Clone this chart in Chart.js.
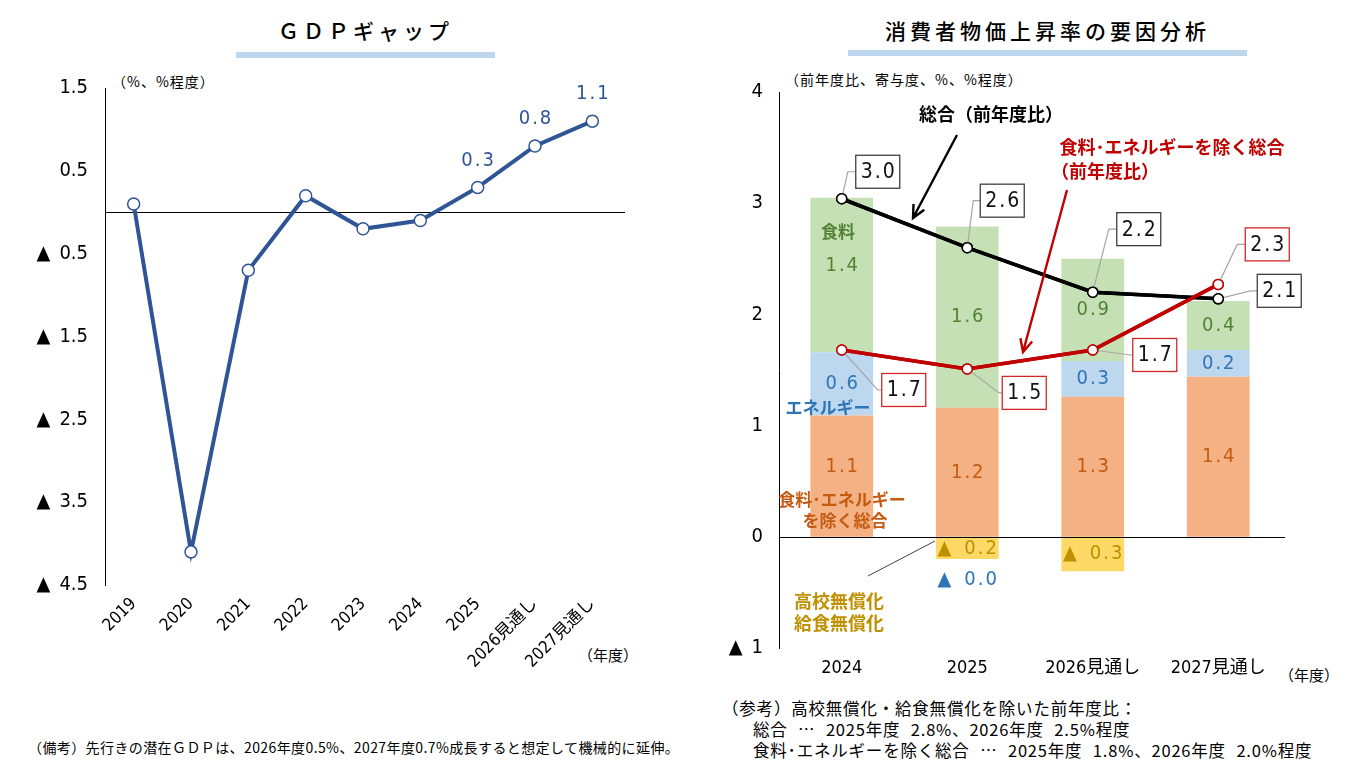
<!DOCTYPE html>
<html>
<head>
<meta charset="utf-8">
<script src="https://cdn.jsdelivr.net/npm/chart.js@4.4.1/dist/chart.umd.min.js"></script>
<style>
  body { margin: 0; width: 1350px; height: 781px; background: #fff; position: relative; overflow: hidden;
         font-family: "Noto Sans CJK JP", sans-serif; color: #000; }
  .abs { position: absolute; white-space: nowrap; }
  .title { font-size: 21px; letter-spacing: 4px; text-align: center; font-weight: 500; }
  .bar { position: absolute; height: 6px; background: #BDD7EE; }
  .unit { font-size: 14px; letter-spacing: 1px; }
  .note { font-size: 14px; letter-spacing: 0.4px; }
  .ref { font-size: 16.5px; line-height: 21px; word-spacing: 6px; letter-spacing: 0.8px; }
  canvas { position: absolute; top: 0; }
</style>
</head>
<body>

<div class="abs title" style="left:236px;top:15px;width:259px;">ＧＤＰギャップ</div>
<div class="bar" style="left:236px;top:52px;width:259px;"></div>
<div class="abs unit" style="left:112px;top:71px;">（%、%程度）</div>
<div class="abs unit" style="left:578px;top:644px;font-size:15px;letter-spacing:0;">（年度）</div>
<div class="abs note" style="left:28px;top:737px;">（備考）先行きの潜在ＧＤＰは、2026年度0.5%、2027年度0.7%成長すると想定して機械的に延伸。</div>

<div class="abs title" style="left:848px;top:15px;width:399px;">消費者物価上昇率の要因分析</div>
<div class="bar" style="left:848px;top:50px;width:399px;"></div>
<div class="abs unit" style="left:785px;top:69px;">（前年度比、寄与度、%、%程度）</div>
<div class="abs unit" style="left:1279px;top:664px;font-size:15px;letter-spacing:0;">（年度）</div>
<div class="abs ref" style="left:722px;top:698px;">（参考）高校無償化・給食無償化を除いた前年度比：</div>
<div class="abs ref" style="left:753px;top:719px;">総合 … 2025年度 2.8%、2026年度 2.5%程度</div>
<div class="abs ref" style="left:753px;top:740px;">食料･エネルギーを除く総合 … 2025年度 1.8%、2026年度 2.0%程度</div>

<canvas id="gdp" width="680" height="700" style="left:0px;"></canvas>
<canvas id="cpi" width="650" height="781" style="left:700px;"></canvas>

<script>
// ---- GDPギャップ ----
const gdpYears = ['2019', '2020', '2021', '2022', '2023', '2024', '2025', '2026見通し', '2027見通し'];
const gdpGap = [0.1, -4.1, -0.7, 0.2, -0.2, -0.1, 0.3, 0.8, 1.1];
const gdpTicks = [1.5, 0.5, -0.5, -1.5, -2.5, -3.5, -4.5];
const gdpShown = [6, 7, 8];   // points with a value label

// ---- 消費者物価 ----
const cpiYears = ['2024', '2025', '2026見通し', '2027見通し'];
const coreContrib = [1.09, 1.16, 1.26, 1.44];    // 食料・エネルギーを除く総合
const energyContrib = [0.57, -0.01, 0.32, 0.24]; // エネルギー
const foodContrib = [1.39, 1.63, 0.92, 0.44];    // 食料
const freeContrib = [null, -0.19, -0.31, null];  // 高校無償化・給食無償化
const totalYoY = [3.04, 2.60, 2.20, 2.14];       // 総合（前年度比）
const coreYoY = [1.68, 1.51, 1.68, 2.27];        // 食料・エネルギーを除く総合（前年度比）

const NUM_FONT = "'Liberation Sans Narrow', 'DejaVu Sans Condensed', 'Noto Sans CJK JP', sans-serif";
const JP_FONT = "'Noto Sans CJK JP', sans-serif";
const GDP_BLUE = '#2F5597';
const RED = '#C00000';

Chart.defaults.font.family = NUM_FONT;
Chart.defaults.color = '#000';

function fmt(v, digits) {
  const s = Math.abs(v).toFixed(digits);
  return v < 0 ? '▲\u2002' + s : s;
}

// 0の横線
function zeroLine(when) {
  const p = { id: 'zeroLine' + when };
  p[when] = chart => {
    const { ctx, chartArea, scales } = chart;
    const y = Math.round(scales.y.getPixelForValue(0)) + 0.5;
    ctx.save();
    ctx.strokeStyle = '#000';
    ctx.lineWidth = 1;
    ctx.beginPath();
    ctx.moveTo(chartArea.left, y);
    ctx.lineTo(chartArea.right + 4, y);
    ctx.stroke();
    ctx.restore();
  };
  return p;
}

// =========================
// 左: GDPギャップ
// =========================
const gdpLabels = {
  id: 'gdpLabels',
  afterDatasetsDraw(chart) {
    const { ctx } = chart;
    const meta = chart.getDatasetMeta(0);
    ctx.save();
    ctx.fillStyle = GDP_BLUE;
    ctx.font = '20px ' + NUM_FONT;
    ctx.letterSpacing = '2px';
    ctx.textAlign = 'center';
    ctx.textBaseline = 'middle';
    gdpShown.forEach(i => {
      const pt = meta.data[i];
      ctx.fillText(gdpGap[i].toFixed(1), pt.x + 1, pt.y - 27);
    });
    ctx.restore();
  }
};

new Chart(document.getElementById('gdp'), {
  type: 'line',
  data: {
    labels: gdpYears,
    datasets: [{
      data: gdpGap,
      borderColor: GDP_BLUE,
      borderWidth: 4,
      tension: 0,
      pointRadius: 6,
      pointBackgroundColor: '#fff',
      pointBorderColor: GDP_BLUE,
      pointBorderWidth: 1.5
    }]
  },
  options: {
    responsive: false,
    animation: false,
    layout: { padding: { top: 88, right: 59, left: 0, bottom: 0 } },
    plugins: { legend: { display: false }, tooltip: { enabled: false } },
    scales: {
      x: {
        offset: true,
        grid: { display: false, drawTicks: false },
        border: { display: false },
        ticks: { autoSkip: false, minRotation: 45, maxRotation: 45, padding: 9, color: '#000',
                 font: { family: NUM_FONT, size: 17 } },
        afterFit(s) { s.height = 115; }
      },
      y: {
        min: -4.5, max: 1.5,
        grid: { display: false, drawTicks: false },
        border: { display: true, color: '#000', width: 1 },
        afterBuildTicks(s) { s.ticks = gdpTicks.map(v => ({ value: v })); },
        ticks: { padding: 17, color: '#000', font: { family: NUM_FONT, size: 20 },
                 callback: v => fmt(v, 1) },
        afterFit(s) { s.width = 105; }
      }
    }
  },
  plugins: [zeroLine('beforeDatasetsDraw'), gdpLabels]
});

// =========================
// 右: 消費者物価上昇率の要因分析
// =========================
const CPI_LEFT = 700; // canvas offset on the page

// ラベル枠の位置（点からのずれ）
const totalBoxPos = [[36, -27, 6, -27], [35, -47, 6, -47], [46, -63, 16, -63], [61, -8, 32, -8]];
const coreBoxPos = [[62, 40, 36, 40], [57, 24, 32, 24], [62, 5, 38, 5], [49, -40, 19, -40]];
const labelShift = { 0: [-9, 0, 0, 0], 2: [-9, 0, 0, 0] }; // dataset index -> dy per bar

const barLabels = {
  id: 'barLabels',
  afterDatasetsDraw(chart) {
    const { ctx } = chart;
    ctx.save();
    ctx.font = '20px ' + NUM_FONT;
    ctx.letterSpacing = '2px';
    ctx.textAlign = 'center';
    ctx.textBaseline = 'middle';
    chart.data.datasets.forEach((ds, di) => {
      if (ds.type === 'line') return;
      const meta = chart.getDatasetMeta(di);
      ds.data.forEach((v, j) => {
        if (v === null) return;
        const el = meta.data[j];
        let y = (el.y + el.base) / 2 + ((labelShift[di] || [])[j] || 0);
        if (Math.abs(v) < 0.05) {
          // ほぼ0：積み上げの下に置く
          const below = chart.getDatasetMeta(3).data[j];
          y = below.y + 21;
        }
        ctx.fillStyle = ds.labelColor;
        ctx.fillText(fmt(v, 1), el.x + 1, y);
      });
    });
    ctx.restore();
  }
};

function drawBox(ctx, px, py, pos, text, edge) {
  const [bx, by, ex, ey] = pos;
  const w = 44, h = 33;
  ctx.strokeStyle = '#A6A6A6';
  ctx.lineWidth = 1.2;
  ctx.beginPath();
  ctx.moveTo(px, py);
  ctx.lineTo(px + ex, py + ey);
  ctx.lineTo(px + bx - w / 2, py + by);
  ctx.stroke();
  ctx.fillStyle = '#fff';
  ctx.fillRect(px + bx - w / 2, py + by - h / 2, w, h);
  ctx.strokeStyle = edge;
  ctx.lineWidth = 1.3;
  ctx.strokeRect(px + bx - w / 2, py + by - h / 2, w, h);
  ctx.fillStyle = '#111';
  ctx.fillText(text, px + bx + 1, py + by + 1);
}

const boxLabels = {
  id: 'boxLabels',
  afterDatasetsDraw(chart) {
    const { ctx } = chart;
    ctx.save();
    ctx.font = '21px ' + NUM_FONT;
    ctx.letterSpacing = '2px';
    ctx.textAlign = 'center';
    ctx.textBaseline = 'middle';
    const tot = chart.getDatasetMeta(4), core = chart.getDatasetMeta(5);
    totalYoY.forEach((v, j) => drawBox(ctx, tot.data[j].x, tot.data[j].y, totalBoxPos[j], v.toFixed(1), '#404040'));
    coreYoY.forEach((v, j) => drawBox(ctx, core.data[j].x, core.data[j].y, coreBoxPos[j], v.toFixed(1), '#D02828'));
    ctx.restore();
    // 点を枠線の上に描き直す
    tot.controller.draw();
    core.controller.draw();
  }
};

function arrow(ctx, x1, y1, x2, y2, color) {
  const a = Math.atan2(y2 - y1, x2 - x1), L = 14, s = 0.45;
  ctx.strokeStyle = color;
  ctx.lineWidth = 2.4;
  ctx.beginPath();
  ctx.moveTo(x1, y1);
  ctx.lineTo(x2, y2);
  ctx.moveTo(x2 - L * Math.cos(a - s), y2 - L * Math.sin(a - s));
  ctx.lineTo(x2, y2);
  ctx.lineTo(x2 - L * Math.cos(a + s), y2 - L * Math.sin(a + s));
  ctx.stroke();
}

const notes = {
  id: 'notes',
  afterDraw(chart) {
    const ctx = chart.ctx, o = CPI_LEFT;
    ctx.save();
    ctx.textAlign = 'center';
    ctx.textBaseline = 'middle';
    ctx.font = 'bold 17px ' + JP_FONT;
    const t = (s, x, y, c) => { ctx.fillStyle = c; ctx.fillText(s, x - o, y); };
    t('食料', 838, 232, '#548235');
    t('エネルギー', 828, 408, '#2E75B6');
    t('食料･エネルギー', 842, 500, '#C55A11');
    t('を除く総合', 845, 521, '#C55A11');
    ctx.font = 'bold 18px ' + JP_FONT;
    t('高校無償化', 839, 601, '#BF9000');
    t('給食無償化', 839, 623, '#BF9000');
    t('総合（前年度比）', 991, 114, '#000');
    t('食料･エネルギーを除く総合', 1172, 147, RED);
    t('（前年度比）', 1105, 171, RED);
    arrow(ctx, 957 - o, 135, 913 - o, 218, '#000');
    arrow(ctx, 1067 - o, 190, 1023 - o, 352, RED);
    ctx.strokeStyle = '#404040';
    ctx.lineWidth = 1;
    ctx.beginPath();
    ctx.moveTo(868 - o, 576);
    ctx.lineTo(935 - o, 541);
    ctx.stroke();
    ctx.restore();
  }
};

const barBase = { type: 'bar', stack: 'cpi', categoryPercentage: 1, barPercentage: 0.5, order: 2, borderWidth: 0 };
const lineBase = { type: 'line', borderWidth: 3.5, tension: 0, pointRadius: 5, pointBorderWidth: 1.5,
                   pointBackgroundColor: '#fff', order: 1 };

new Chart(document.getElementById('cpi'), {
  type: 'bar',
  data: {
    labels: cpiYears,
    datasets: [
      { ...barBase, label: '食料･エネルギーを除く総合', data: coreContrib, backgroundColor: '#F4B183', labelColor: '#C55A11' },
      { ...barBase, label: 'エネルギー', data: energyContrib, backgroundColor: '#BDD7EE', labelColor: '#2E75B6' },
      { ...barBase, label: '食料', data: foodContrib, backgroundColor: '#C5E0B4', labelColor: '#548235' },
      { ...barBase, label: '高校無償化・給食無償化', data: freeContrib, backgroundColor: '#FFD966', labelColor: '#BF9000' },
      { ...lineBase, label: '総合（前年度比）', stack: 'tot', data: totalYoY, borderColor: '#000', pointBorderColor: '#000' },
      { ...lineBase, label: '食料･エネルギーを除く総合（前年度比）', stack: 'core', data: coreYoY, borderColor: RED, pointBorderColor: RED }
    ]
  },
  options: {
    responsive: false,
    animation: false,
    layout: { padding: { top: 92, right: 69, left: 0, bottom: 93 } },
    plugins: { legend: { display: false }, tooltip: { enabled: false } },
    scales: {
      x: {
        stacked: true,
        grid: { display: false, drawTicks: false },
        border: { display: false },
        ticks: { padding: 10, color: '#000', font: { family: NUM_FONT, size: 18 } },
        afterFit(s) { s.height = 40; }
      },
      y: {
        stacked: true,
        min: -1, max: 4,
        grid: { display: false, drawTicks: false },
        border: { display: true, color: '#000', width: 1 },
        ticks: { stepSize: 1, padding: 16, color: '#000', font: { family: NUM_FONT, size: 20 },
                 callback: v => fmt(v, 0) },
        afterFit(s) { s.width = 79; }
      }
    }
  },
  plugins: [zeroLine('afterDatasetsDraw'), barLabels, boxLabels, notes]
});
</script>
</body>
</html>
